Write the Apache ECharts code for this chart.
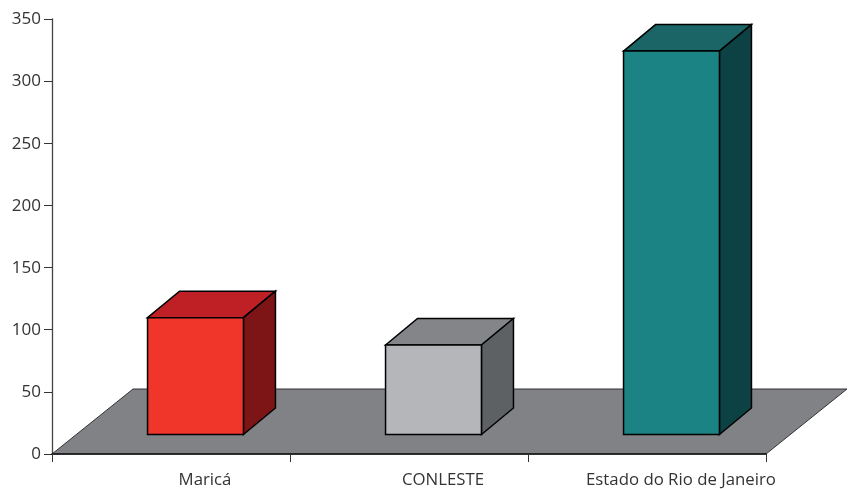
<!DOCTYPE html>
<html>
<head>
<meta charset="utf-8">
<style>
  html, body { margin: 0; padding: 0; background: #fff; }
  #chart { width: 848px; height: 489px; }
</style>
<script src="https://cdn.jsdelivr.net/npm/echarts@6/dist/echarts.min.js"></script>
</head>
<body>
<div id="chart"></div>
<script>
// 图表数据
var categories = ["Maricá", "CONLESTE", "Estado do Rio de Janeiro"];
var values = [94, 72, 308.5];
var yTicks = [0, 50, 100, 150, 200, 250, 300, 350];

// 颜色: front, top, side
var barColors = [
  ["#f0352b", "#be2026", "#7d1416"],
  ["#b5b6ba", "#838588", "#5e6163"],
  ["#1c8385", "#1b6566", "#0d4244"]
];
var floorColor = "#808285";

// 3D layout, px
var floorDx = 81, floorDy = 65;
var barInsetY = 19.5, barInsetX = 24.5;
var barDx = 32, barDy = 26.5;
var barShare = 0.403;

var chart = echarts.init(document.getElementById("chart"));

function face(points, fill) {
  return {
    type: "polygon",
    shape: { points: points },
    style: { fill: fill, stroke: "#000", lineWidth: 1.5, lineJoin: "miter" }
  };
}

function renderFloor(params, api) {
  var o = api.coord([0, 0]);
  var band = api.size([1, 0])[0];
  var x0 = o[0] - band / 2, x1 = x0 + band * categories.length, y = o[1];
  return {
    type: "polygon",
    shape: { points: [[x0, y], [x1, y], [x1 + floorDx, y - floorDy], [x0 + floorDx, y - floorDy]] },
    style: { fill: floorColor, stroke: "#333", lineWidth: 1 }
  };
}

function renderBar(params, api) {
  var i = api.value(0);
  var base = api.coord([i, 0]);
  var top = api.coord([i, api.value(1)]);
  var w = api.size([1, 0])[0] * barShare;
  var c = barColors[i];
  var l = base[0] + barInsetX - w / 2, r = l + w;
  var b = base[1] - barInsetY, t = top[1] - barInsetY;
  return {
    type: "group",
    children: [
      face([[l, t], [l + barDx, t - barDy], [r + barDx, t - barDy], [r, t]], c[1]),
      face([[r, t], [r + barDx, t - barDy], [r + barDx, b - barDy], [r, b]], c[2]),
      face([[l, t], [r, t], [r, b], [l, b]], c[0])
    ]
  };
}

chart.setOption({
  animation: false,
  grid: { left: 52, right: 82, top: 19, bottom: 35 },
  textStyle: { fontFamily: "Open Sans" },
  xAxis: {
    type: "category",
    data: categories,
    z: 5,
    axisLine: { lineStyle: { color: "#111", width: 1.5 } },
    axisTick: { show: true, alignWithLabel: false, length: 8, lineStyle: { color: "#333" } },
    axisLabel: {
      color: "#333", fontSize: 16.8, margin: 18, interval: 0,
      padding: [0, 0, 0, 68]
    }
  },
  yAxis: {
    type: "value",
    min: yTicks[0],
    max: yTicks[yTicks.length - 1],
    interval: 50,
    splitLine: { show: false },
    axisLine: { show: true, lineStyle: { color: "#444", width: 1.3 } },
    axisTick: { show: true, length: 8, lineStyle: { color: "#333" } },
    axisLabel: {
      color: "#333", fontSize: 17, margin: 11, verticalAlign: "top",
      padding: [-8, 0, 0, 0]
    }
  },
  series: [
    { type: "custom", z: 2, silent: true, renderItem: renderFloor, data: [[0, 0]], encode: { x: 0, y: 1 } },
    {
      type: "custom", z: 3, silent: true, renderItem: renderBar,
      data: values.map(function (v, i) { return [i, v]; }),
      encode: { x: 0, y: 1 }
    }
  ]
});
</script>
</body>
</html>
